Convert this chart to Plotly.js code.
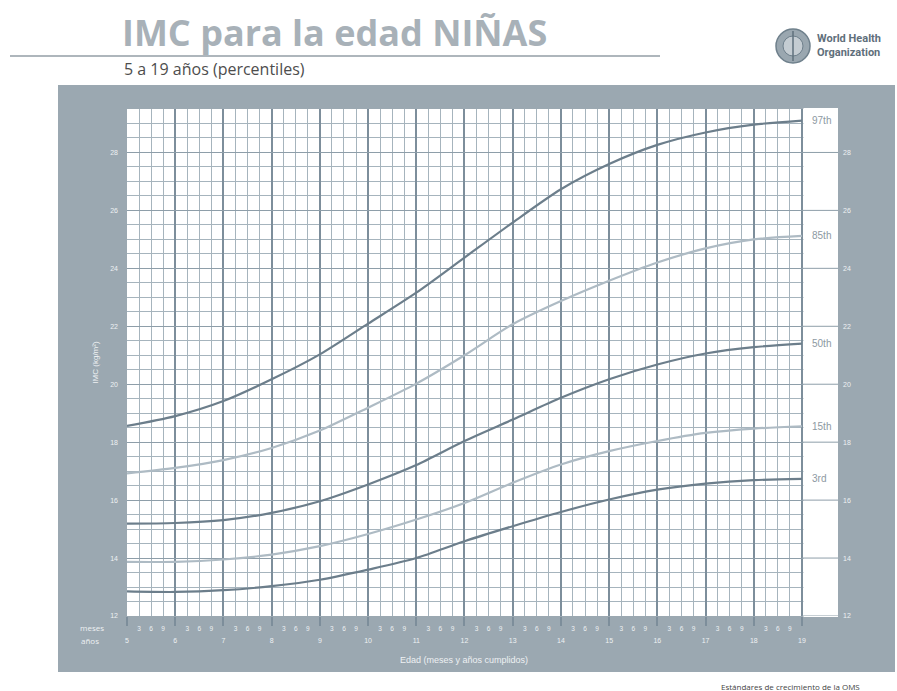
<!DOCTYPE html>
<html><head><meta charset="utf-8">
<script src="https://cdn.plot.ly/plotly-3.0.1.min.js"></script>
<style>html,body{margin:0;padding:0;background:#fff}#chart{width:897px;height:691px}</style>
</head><body><div id="chart"></div>
<script>
// ---- data ----
const ages = [5,6,7,8,9,10,11,12,13,14,15,16,17,18,19];
const p97 = [18.56,18.90,19.42,20.17,21.03,22.09,23.16,24.37,25.58,26.73,27.60,28.26,28.69,28.96,29.10];
const p85 = [16.92,17.11,17.38,17.80,18.40,19.19,20.02,21.00,22.07,22.87,23.57,24.20,24.69,25.00,25.12];
const p50 = [15.19,15.21,15.31,15.56,15.96,16.54,17.21,18.04,18.78,19.53,20.17,20.68,21.06,21.28,21.40];
const p15 = [13.87,13.87,13.95,14.12,14.41,14.83,15.33,15.90,16.60,17.23,17.69,18.04,18.32,18.47,18.55];
const p3  = [12.85,12.83,12.89,13.03,13.25,13.60,14.00,14.58,15.10,15.59,16.02,16.36,16.57,16.69,16.73];
const seriesNames = ['97th','85th','50th','15th','3rd'];
const yearTicks = [5,6,7,8,9,10,11,12,13,14,15,16,17,18,19];
const monthSteps = [3,6,9];
const bmiTicks = [12,14,16,18,20,22,24,26,28];
const bmiMinorStep = 0.5;

// ---- styling ----
const W = 897, H = 691;
const L = 127, R = 59, T = 109, B = 75;
const pw = W - L - R, ph = H - T - B;
const px = v => (v - L) / pw;          // page px -> paper x
const py = v => (H - B - v) / ph;      // page px -> paper y
const xRange = [5, 19.747];
const yRange = [12, 29.5];
const panel = '#9ba8b1';
const darkGrid = '#7d8e9b', midGrid = '#8e9ea9', lightGrid = '#a6b4bd';
const darkCurve = '#6c7e8b', lightCurve = '#aebbc4';
const labelWhite = '#eef1f3';

const series = [p97, p85, p50, p15, p3];
const curveColors = [darkCurve, lightCurve, darkCurve, lightCurve, darkCurve];

const traces = series.map((s, i) => ({
  x: ages, y: s, type: 'scatter', mode: 'lines', name: seriesNames[i],
  line: {color: curveColors[i], width: 2.2, shape: 'spline', smoothing: 0.8},
  hoverinfo: 'skip', showlegend: false
}));
// carrier for month/right axes
traces.push({x: [ages[0]], y: [null], xaxis: 'x2', yaxis: 'y2', mode: 'markers',
  showlegend: false, hoverinfo: 'skip', marker: {opacity: 0}});

const monthVals = [], monthText = [];
yearTicks.slice(0, -1).forEach(yv => monthSteps.forEach(m => { monthVals.push(yv + m/12); monthText.push(String(m)); }));
const minorY = [];
for (let v = yRange[0]; v <= yRange[1] + 1e-9; v += bmiMinorStep) if (v % 2 !== 0) minorY.push(v);

const shapes = [
  // gray panel
  {type:'rect', xref:'paper', yref:'paper', x0:px(58), x1:px(895), y0:py(672), y1:py(85), fillcolor:panel, line:{width:0}, layer:'below'},
  // white chart paper
  {type:'rect', xref:'paper', yref:'paper', x0:0, x1:1, y0:0, y1:1, fillcolor:'#ffffff', line:{width:0}, layer:'below'},
  // title rule
  {type:'line', xref:'paper', yref:'paper', x0:px(10), x1:px(660), y0:py(56), y1:py(56), line:{color:'#aeb6bc', width:2}},
  // WHO emblem
  {type:'circle', xref:'paper', yref:'paper', x0:px(776), x1:px(810), y0:py(63), y1:py(29), fillcolor:'#9aa7b0', line:{color:'#6f808c', width:1.5}},
  {type:'circle', xref:'paper', yref:'paper', x0:px(783), x1:px(803), y0:py(56), y1:py(36), fillcolor:'#c4ccd2', line:{color:'#6f808c', width:1}},
  {type:'line', xref:'paper', yref:'paper', x0:px(793), x1:px(793), y0:py(61), y1:py(31), line:{color:'#5f707c', width:1.5}},
  // cover grid right of the last year
  {type:'rect', xref:'x', yref:'paper', x0:19.03, x1:xRange[1] + 0.1, y0:-0.002, y1:1.002, fillcolor:'#ffffff', line:{width:0}, layer:'above'}
];
bmiTicks.forEach(v => shapes.push({type:'line', xref:'x', yref:'y', x0:19, x1:xRange[1] + 0.1, y0:v, y1:v,
  line:{color:midGrid, width:1}, layer:'above'}));

const annFont = {family:'Liberation Sans, Arial, sans-serif', size:10, color:'#8d99a2'};
const annotations = seriesNames.map((n, i) => ({
  text: n, xref:'paper', yref:'y', x: px(810), y: series[i][series[i].length-1],
  xanchor:'left', yanchor:'middle', showarrow:false, font: annFont
}));
annotations.push(
  {text:'meses', xref:'paper', yref:'paper', x:px(92), y:py(627), showarrow:false, xanchor:'center', yanchor:'middle',
   font:{family:'Open Sans', size:8, color:labelWhite}},
  {text:'años', xref:'paper', yref:'paper', x:px(90), y:py(640), showarrow:false, xanchor:'center', yanchor:'middle',
   font:{family:'Open Sans', size:8, color:labelWhite}},
  {text:'Edad (meses y años cumplidos)', xref:'x', yref:'paper', x:12, y:py(660), showarrow:false, xanchor:'center', yanchor:'middle',
   font:{family:'Liberation Sans, Arial', size:9, color:labelWhite}},
  {text:'5 a 19 años (percentiles)', xref:'paper', yref:'paper', x:px(122), y:py(69), showarrow:false, xanchor:'left', yanchor:'middle',
   font:{family:'Open Sans', size:16, color:'#4d4d4d'}},
  {text:'<b>World Health</b><br><b>Organization</b>', xref:'paper', yref:'paper', x:px(815), y:py(45.5), showarrow:false,
   xanchor:'left', yanchor:'middle', align:'left',
   font:{family:'Roboto, sans-serif', size:11, color:'#5f6f7b'}},
  {text:'Estándares de crecimiento de la OMS', xref:'paper', yref:'paper', x:px(790), y:py(686), showarrow:false, xanchor:'center', yanchor:'middle',
   font:{family:'Open Sans', size:8, color:'#444'}}
);

const tickFont = {family:'Liberation Sans, Arial, sans-serif', size:7, color:labelWhite};

const layout = {
  width: W, height: H,
  margin: {l:L, r:R, t:T, b:B, pad:0},
  paper_bgcolor:'#ffffff', plot_bgcolor:'#ffffff',
  showlegend:false,
  title: {text:'IMC para la edad NIÑAS', xref:'container', yref:'container', x:122/W, xanchor:'left', y:1-33/H, yanchor:'middle',
          font:{family:'Open Sans', size:36, color:'#a8b1b8', weight:700}},
  xaxis: {range:xRange, tickmode:'array', tickvals:yearTicks, ticktext:yearTicks.map(String),
          showgrid:true, gridcolor:darkGrid, gridwidth:2, zeroline:false, showline:false,
          ticks:'outside', ticklen:9, tickwidth:2, tickcolor:darkGrid, tickfont:tickFont, ticklabelstandoff:9,
          minor:{tickmode:'array', tickvals:monthVals, showgrid:true, gridcolor:lightGrid, gridwidth:1, ticks:''},
          fixedrange:true},
  xaxis2: {range:xRange, overlaying:'x', anchor:'y2', side:'bottom', tickmode:'array', tickvals:monthVals, ticktext:monthText,
           showgrid:false, zeroline:false, showline:false, ticks:'', tickfont:{...tickFont, size:6.5}, ticklabelstandoff:7, fixedrange:true},
  yaxis: {range:yRange, tickmode:'array', tickvals:bmiTicks, ticktext:bmiTicks.map(String),
          showgrid:true, gridcolor:midGrid, gridwidth:1, zeroline:false, showline:false,
          ticks:'', tickfont:tickFont, ticklabelstandoff:8,
          minor:{tickmode:'array', tickvals:minorY, showgrid:true, gridcolor:lightGrid, gridwidth:1, ticks:''},
          title:{text:'IMC (kg/m²)', font:{family:'Liberation Sans, Arial', size:8, color:labelWhite}, standoff:10},
          fixedrange:true},
  yaxis2: {range:yRange, overlaying:'y', anchor:'x2', side:'right', tickmode:'array', tickvals:bmiTicks, ticktext:bmiTicks.map(String),
           showgrid:false, zeroline:false, showline:false, ticks:'', tickfont:tickFont, ticklabelstandoff:4, fixedrange:true},
  shapes: shapes,
  annotations: annotations
};

Plotly.newPlot('chart', traces, layout, {displayModeBar:false, staticPlot:true});
</script>
</body></html>
